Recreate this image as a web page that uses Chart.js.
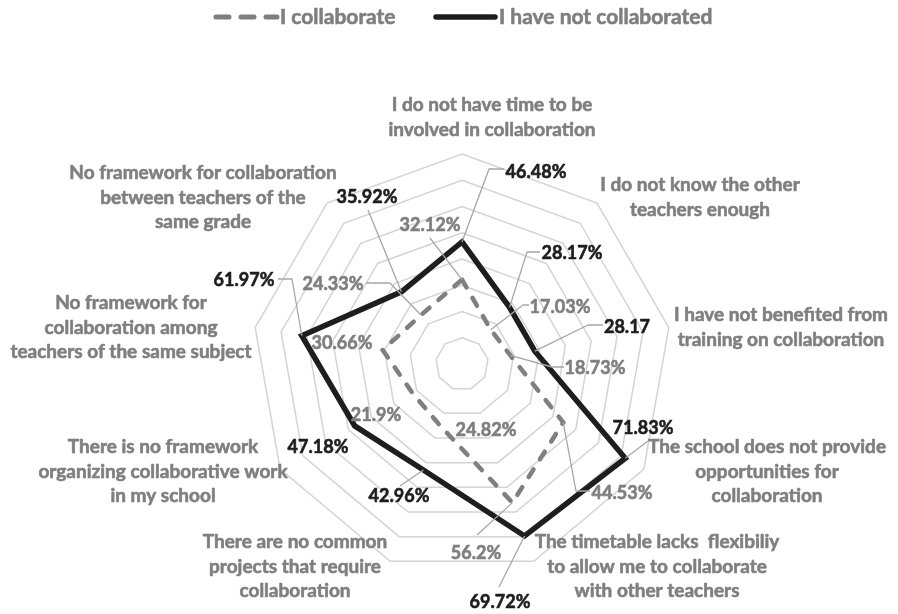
<!DOCTYPE html>
<html>
<head>
<meta charset="utf-8">
<script src="https://cdn.jsdelivr.net/npm/chart.js@4.4.0/dist/chart.umd.min.js"></script>
<style>
  html, body { margin: 0; padding: 0; background: #fff; }
  #wrap { position: relative; width: 898px; height: 614px; }
</style>
</head>
<body>
<div id="wrap"><canvas id="radar" width="898" height="614"></canvas></div>
<script>
// reasons for not collaborating, clockwise from the top
const CATEGORIES = [
  ['I do not have time to be', 'involved in collaboration'],
  ['I do not know the other', 'teachers enough'],
  ['I have not benefited from', 'training on collaboration'],
  ['The school does not provide', 'opportunities for', 'collaboration'],
  ['The timetable lacks  flexibiliy', 'to allow me to collaborate', 'with other teachers'],
  ['There are no common', 'projects that require', 'collaboration'],
  ['There is no framework', 'organizing collaborative work', 'in my school'],
  ['No framework for', 'collaboration among', 'teachers of the same subject'],
  ['No framework for collaboration', 'between teachers of the', 'same grade']
];
const COLLABORATE = [32.12, 17.03, 18.73, 44.53, 56.2, 24.82, 21.9, 30.66, 24.33];
const NOT_COLLABORATED = [46.48, 28.17, 28.17, 71.83, 69.72, 42.96, 47.18, 61.97, 35.92];
// text shown next to each point (one label has no % sign)
const COLLABORATE_TEXT = ['32.12%', '17.03%', '18.73%', '44.53%', '56.2%', '24.82%', '21.9%', '30.66%', '24.33%'];
const NOT_COLLABORATED_TEXT = ['46.48%', '28.17%', '28.17', '71.83%', '69.72%', '42.96%', '47.18%', '61.97%', '35.92%'];
const SCALE_MAX = 80;
const SCALE_STEP = 10;

// placement of category labels: centre x, first line y
const catPos = [
  [492, 105], [700, 185], [781, 315], [767, 447], [657, 542],
  [295, 542], [163, 447], [131, 303], [203, 173]
];
// value label centres and leader elbows (the leader ends on the point)
const collabPos = [
  { x: 430, y: 225, lead: [[430, 238]] },
  { x: 560, y: 307, lead: [[529, 305], [523, 305]] },
  { x: 595, y: 368, lead: [[564, 367], [552, 367]] },
  { x: 622, y: 493, lead: [[590, 491], [576, 491]] },
  { x: 476, y: 553, lead: [[477, 535]] },
  { x: 486, y: 430, lead: null },
  { x: 376, y: 415, lead: null },
  { x: 342, y: 343, lead: null },
  { x: 333, y: 284, lead: [[366, 283], [390, 283]] }
];
const notCollabPos = [
  { x: 536, y: 172, lead: [[504, 169], [489, 169]] },
  { x: 572, y: 253, lead: [[540, 252], [527, 252]] },
  { x: 627, y: 327, lead: [[603, 325], [588, 325]] },
  { x: 643, y: 428, lead: [[648, 441]] },
  { x: 500, y: 602, lead: [[499, 587]] },
  { x: 399, y: 496, lead: [[400, 486]] },
  { x: 318, y: 447, lead: null },
  { x: 244, y: 280, lead: [[278, 279], [292, 279]] },
  { x: 367, y: 197, lead: [[368, 210]] }
];

const GREY = '#7f7f7f';
const DARK = '#1e1e1e';
const FONT = '"Lato", "Open Sans", sans-serif';

// bold text with a thin outline of the same colour for a heavier weight
function heavyText(ctx, text, x, y, color) {
  ctx.fillStyle = color;
  ctx.strokeStyle = color;
  ctx.lineWidth = 0.6;
  ctx.lineJoin = 'round';
  ctx.fillText(text, x, y);
  ctx.strokeText(text, x, y);
}

// legend, category labels, value labels and their leader lines
const labelsPlugin = {
  id: 'radarLabels',
  afterDraw(chart) {
    const ctx = chart.ctx;
    const scale = chart.scales.r;
    ctx.save();

    // legend
    ctx.lineWidth = 5;
    ctx.lineCap = 'round';
    ctx.strokeStyle = GREY;
    ctx.setLineDash([13, 12]);
    ctx.beginPath(); ctx.moveTo(216, 17); ctx.lineTo(277, 17); ctx.stroke();
    ctx.setLineDash([]);
    ctx.lineWidth = 5.5;
    ctx.strokeStyle = DARK;
    ctx.beginPath(); ctx.moveTo(436, 17); ctx.lineTo(495, 17); ctx.stroke();
    ctx.font = '700 21px ' + FONT;
    ctx.textAlign = 'left';
    ctx.textBaseline = 'middle';
    heavyText(ctx, 'I collaborate', 280, 17, GREY);
    heavyText(ctx, 'I have not collaborated', 499, 17, GREY);

    // category labels
    ctx.font = '700 19px ' + FONT;
    ctx.textAlign = 'center';
    CATEGORIES.forEach((lines, i) => {
      lines.forEach((t, k) => heavyText(ctx, t, catPos[i][0], catPos[i][1] + k * 24.5, GREY));
    });

    // value labels
    const drawSeries = (values, texts, pos, color) => {
      values.forEach((v, i) => {
        const p = pos[i];
        if (p.lead) {
          const pt = scale.getPointPositionForValue(i, v);
          ctx.strokeStyle = '#a6a6a6';
          ctx.lineWidth = 1.3;
          ctx.lineCap = 'butt';
          ctx.beginPath();
          ctx.moveTo(p.lead[0][0], p.lead[0][1]);
          p.lead.slice(1).forEach(q => ctx.lineTo(q[0], q[1]));
          ctx.lineTo(pt.x, pt.y);
          ctx.stroke();
        }
        heavyText(ctx, texts[i], p.x, p.y, color);
      });
    };
    ctx.font = '700 18px ' + FONT;
    drawSeries(COLLABORATE, COLLABORATE_TEXT, collabPos, GREY);
    drawSeries(NOT_COLLABORATED, NOT_COLLABORATED_TEXT, notCollabPos, DARK);
    ctx.restore();
  }
};

new Chart(document.getElementById('radar'), {
  type: 'radar',
  data: {
    labels: CATEGORIES,
    datasets: [
      {
        label: 'I have not collaborated',
        data: NOT_COLLABORATED,
        borderColor: DARK,
        borderWidth: 5.5,
        borderJoinStyle: 'miter',
        backgroundColor: 'transparent',
        fill: false,
        pointRadius: 0
      },
      {
        label: 'I collaborate',
        data: COLLABORATE,
        borderColor: GREY,
        borderWidth: 4.5,
        borderDash: [9, 12],
        borderCapStyle: 'round',
        backgroundColor: 'transparent',
        fill: false,
        pointRadius: 0
      }
    ]
  },
  options: {
    responsive: false,
    animation: false,
    layout: { padding: { left: 252, right: 226, top: 154, bottom: 40 } },
    plugins: { legend: { display: false }, tooltip: { enabled: false } },
    scales: {
      r: {
        min: 0,
        max: SCALE_MAX,
        ticks: { display: false, stepSize: SCALE_STEP },
        pointLabels: { display: false },
        angleLines: { display: false },
        grid: { color: '#d4d4d4', lineWidth: 1.5 }
      }
    }
  },
  plugins: [labelsPlugin]
});
</script>
</body>
</html>
